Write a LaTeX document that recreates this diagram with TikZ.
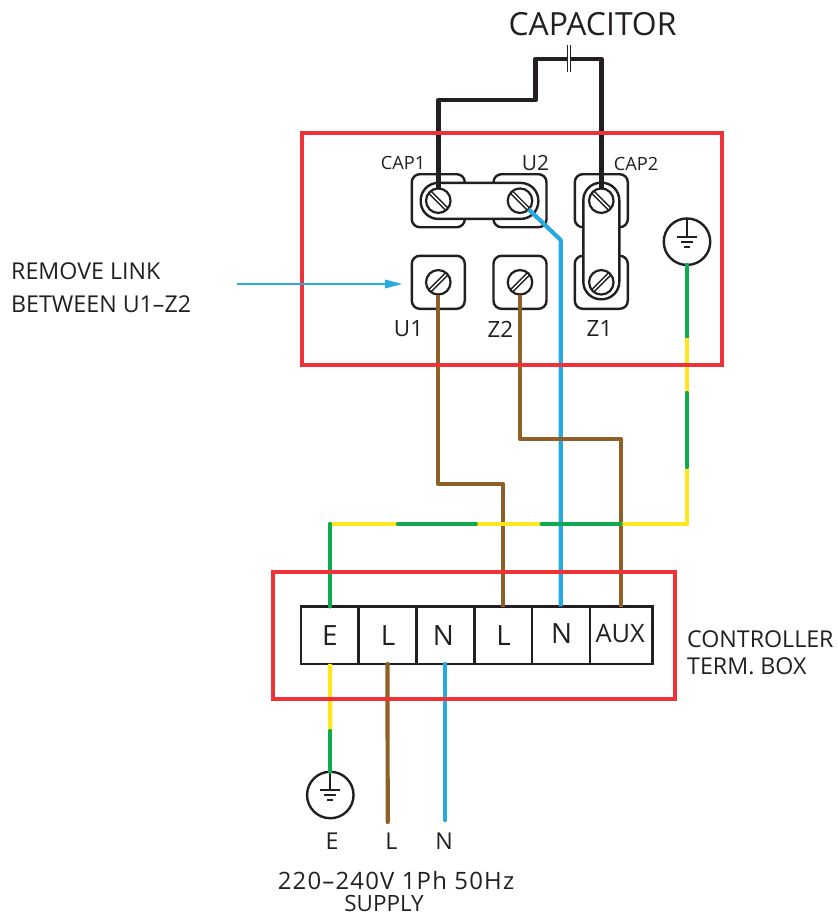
\documentclass[tikz,border=0pt]{standalone}
\usepackage{fontspec}
\setmainfont{Open Sans}
\definecolor{wred}{HTML}{EE3237}
\definecolor{wbrown}{HTML}{8F5F28}
\definecolor{wblue}{HTML}{27AAE1}
\definecolor{wgreen}{HTML}{10A850}
\definecolor{wyellow}{HTML}{FFE620}
\definecolor{ink}{HTML}{231F20}
\tikzset{
  wire/.style={line width=4.2bp,line join=round},
  blackw/.style={wire,line width=4.5bp,draw=ink},
  brownw/.style={wire,draw=wbrown},
  bluew/.style={wire,draw=wblue},
  greenw/.style={wire,draw=wgreen,line cap=round},
  yelloww/.style={wire,draw=wyellow},
  redbox/.style={draw=wred,line width=4bp,line join=miter},
  termbox/.style={draw=ink,line width=2.4bp,fill=white,rectangle,rounded corners=8bp,minimum width=53bp,minimum height=53bp,inner sep=0pt,outer sep=0pt},
  linkbar/.style={draw=ink,line width=2.4bp,fill=white,rectangle,rounded corners=17.5bp,inner sep=0pt,outer sep=0pt},
  screwc/.style={draw=ink,line width=2.2bp,fill=white,circle,minimum size=24.5bp,inner sep=0pt,outer sep=0pt},
  cell/.style={draw=ink,line width=2.5bp,fill=white,rectangle,minimum height=57.5bp,inner sep=0pt,outer sep=0pt},
  earthc/.style={draw=ink,line width=2.4bp,fill=white,circle,minimum size=46.5bp,inner sep=0pt,outer sep=0pt},
  lab/.style={text=ink,inner sep=0pt,font=\fontsize{23.3}{25}\selectfont},
  termlab/.style={text=ink,inner sep=0pt,font=\fontsize{22.5}{25}\selectfont},
  smalllab/.style={text=ink,inner sep=0pt,font=\fontsize{18.3}{20}\selectfont},
  celllab/.style={text=ink,inner sep=0pt,font=\fontsize{28}{30}\selectfont},
  screwb/.pic={
    \node[screwc] (-c) {};
    \draw[ink,line width=1.4bp] (-7.3,-9.5) -- (9.5,7.3) (-9.5,-7.3) -- (7.3,9.5);
  },
  screwf/.pic={
    \node[screwc] (-c) {};
    \draw[ink,line width=1.4bp] (-7.3,9.5) -- (9.5,-7.3) (-9.5,7.3) -- (7.3,-9.5);
  },
  earthsym/.pic={
    \node[earthc] (-c) {};
    \draw[ink,line width=2bp] (-c.north) -- (0,-5) (-10,-5) -- (10,-5) (-6,0) -- (6,0) (-3,5) -- (3,5);
  }
}
\begin{document}
\begin{tikzpicture}[x=1bp,y=-1bp]
\useasboundingbox (0,0) rectangle (838,915);
% terminals
\node[termbox] (capone) at (438.3,200.7) {};
\node[termbox] (utwo) at (520,200.7) {};
\node[termbox] (captwo) at (601.3,200.7) {};
\node[termbox] (uone) at (438.3,282.3) {};
\node[termbox] (ztwo) at (520,282.3) {};
\node[termbox] (zone) at (601.3,282.3) {};
\node[linkbar,minimum width=117.6bp,minimum height=36bp] (linka) at (479.5,200.9) {};
\node[linkbar,minimum width=36bp,minimum height=116.5bp] (linkb) at (601.3,241) {};
\pic (s1) at (438.3,200.7) {screwb};
\pic (s2) at (520,200.7) {screwb};
\pic (s3) at (601.3,200.7) {screwb};
\pic (s4) at (438.3,282.3) {screwf};
\pic (s5) at (520,282.3) {screwf};
\pic (s6) at (601.3,282.3) {screwf};
\pic (e1) at (687,241.7) {earthsym};
\pic (e2) at (330.3,795) {earthsym};
% terminal strip
\node[cell,minimum width=57.7bp] (tE) at (330,635.2) {};
\node[cell,minimum width=57.6bp] (tL) at (387.5,635.2) {};
\node[cell,minimum width=58bp] (tN) at (445.3,635.2) {};
\node[cell,minimum width=57.7bp] (tLb) at (503.2,635.2) {};
\node[cell,minimum width=58bp] (tNb) at (561,635.2) {};
\node[cell,minimum width=62.3bp] (tA) at (621.2,635.2) {};
% free wire points
\coordinate (capL) at (568,59);
\coordinate (capR) at (570,59);
\coordinate (b1) at (438.3,100);
\coordinate (b2) at (535.7,100);
\coordinate (b3) at (535.7,59);
\coordinate (b4) at (601.3,59);
\coordinate (endL) at (387.7,822);
\coordinate (endN) at (445.3,820);
\coordinate (yjoin) at (330.3,731);
\coordinate (g1) at (687,338);
\coordinate (g2) at (687,393);
\coordinate (g3) at (687,467);
\coordinate (g4) at (687,524);
\coordinate (g5) at (620.7,524);
\coordinate (g6) at (541.7,524);
\coordinate (g7) at (475.7,524);
\coordinate (g8) at (398,524);
\coordinate (g9) at (330,524);
\coordinate (u2bend) at (560.7,240);
% black wires
\draw[blackw] (s1-c.north) -- (b1) -- (b2) -- (b3) -- (capL);
\draw[blackw] (capR) -- (b4) -- (s3-c.north);
\draw[ink,line width=1.1bp] (567.2,45) -- (567.2,72) (570.2,45) -- (570.2,72);
% blue
\draw[bluew] (s2-c.south east) -- (u2bend) -- (tNb.north-|u2bend);
% brown
\draw[brownw] (s4-c.south) -- (438.3,484) -- (503,484) -- (503,606.5);
\draw[brownw] (s5-c.south) -- (520,439) -- (620.7,439) -- (620.7,606.5);
% earth wire
\draw[greenw] (e1-c.south) -- (g1);
\draw[yelloww] (g1) -- (g2);
\draw[yelloww] (g3) -- (g4) -- (g5);
\draw[greenw] (g2) -- (g3);
\draw[yelloww] (g6) -- (g7);
\draw[yelloww] (g8) -- (g9);
\draw[greenw] (g5) -- (g6);
\draw[greenw] (g7) -- (g8);
\draw[greenw] (g9) -- (tE.north);
% supply
\draw[yelloww] (tE.south) -- (yjoin);
\draw[greenw] (yjoin) -- (e2-c.north);
\draw[brownw,line cap=round] (tL.south) -- (endL);
\draw[bluew,line cap=round] (tN.south) -- (endN);
% enclosures
\node[redbox,rectangle,minimum width=420bp,minimum height=232bp,inner sep=0pt,outer sep=0pt] (topbox) at (512,249) {};
\node[redbox,rectangle,minimum width=402.5bp,minimum height=127bp,inner sep=0pt,outer sep=0pt] (botbox) at (474,635.5) {};
% arrow
\coordinate (arrowstart) at (237,284);
\draw[wblue,line width=1.2bp] (arrowstart) -- (385,284);
\fill[wblue] (385,279.5) -- (402,284) -- (385,288.5) -- cycle;
% labels
\node[text=ink,inner sep=0pt,font=\fontsize{32}{34}\selectfont] (lcap) at (592.5,24) {CAPACITOR};
\node[smalllab] (l1) at (403,162.5) {CAP1};
\node[text=ink,inner sep=0pt,font=\fontsize{21}{23}\selectfont] (l2) at (535.5,163) {U2};
\node[smalllab] (l3) at (636,164) {CAP2};
\node[termlab] (l4) at (408.5,329) {U1};
\node[termlab] (l5) at (500.5,329) {Z2};
\node[termlab] (l6) at (599.5,328) {Z1};
\node[lab,anchor=west] (l7) at (11,271) {REMOVE LINK};
\node[lab,anchor=west] (l8) at (11,304) {BETWEEN U1–Z2};
\node[lab,anchor=west] (l9) at (687,639) {CONTROLLER};
\node[lab,anchor=west] (l10) at (687,666) {TERM. BOX};
\node[celllab] at (tE.center) {E};
\node[celllab,xshift=0.5bp] at (tL.center) {L};
\node[celllab,xshift=-2bp] at (tN.center) {N};
\node[celllab,xshift=0.5bp] at (tLb.center) {L};
\node[celllab,xshift=0.7bp,yshift=1.3bp] at (tNb.center) {N};
\node[text=ink,inner sep=0pt,font=\fontsize{25.5}{27}\selectfont,yshift=1.8bp,xshift=-1bp] at (tA.center) {AUX};
\node[lab] (l11) at (332,841) {E};
\node[lab] (l12) at (391.5,841) {L};
\node[lab] (l13) at (444,841) {N};
\node[text=ink,inner sep=0pt,font=\fontsize{24}{26}\selectfont] (l14) at (396,881) {\addfontfeatures{LetterSpace=5}220–240V 1Ph 50Hz};
\node[text=ink,inner sep=0pt,font=\fontsize{22.5}{25}\selectfont] (l15) at (384,903) {SUPPLY};
\end{tikzpicture}
\end{document}
